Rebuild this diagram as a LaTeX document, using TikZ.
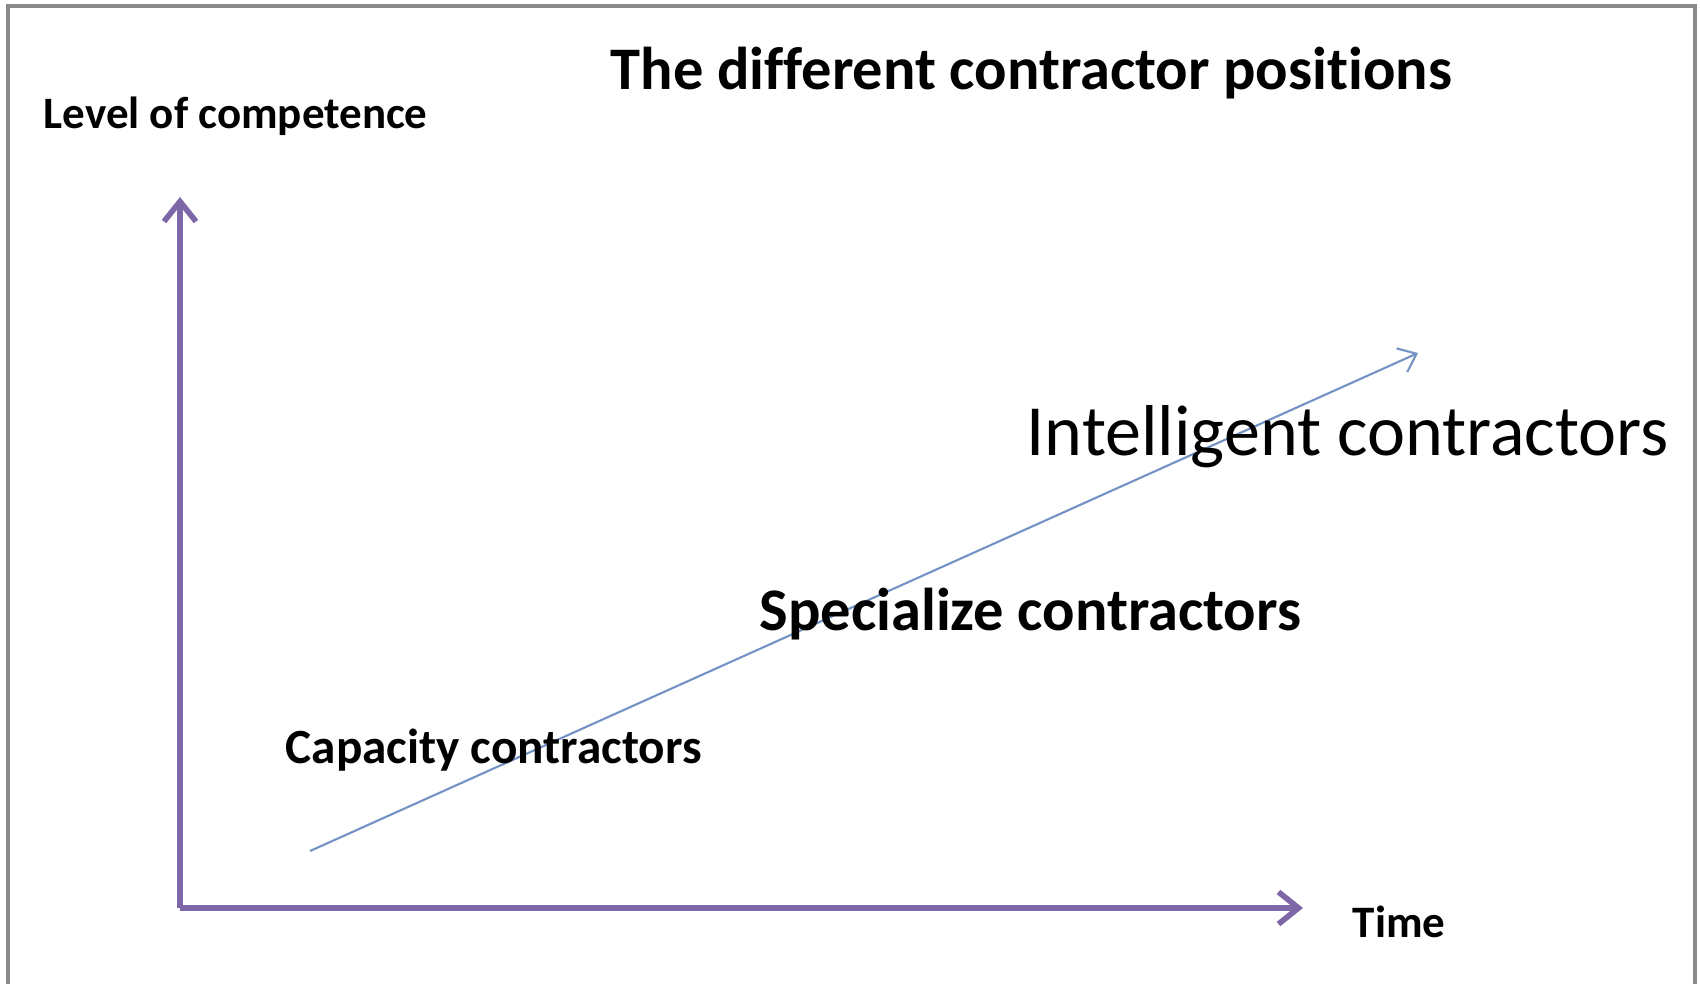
\documentclass[tikz,border=0pt]{standalone}
\usepackage{fontspec}
\setmainfont[Ligatures=NoCommon]{Carlito}
\usetikzlibrary{arrows.meta}
\definecolor{axispurple}{HTML}{7E67A6}
\definecolor{trendblue}{HTML}{7393C4}
\definecolor{framegray}{HTML}{8A8A8A}
\begin{document}
\begin{tikzpicture}
            [
            x = 0.1mm, y = -0.1mm,
            axis/.style = {axispurple, line width = 1.6pt, -{Straight Barb[length=2mm, width=3.2mm, line width=1.6pt]}},
            trend/.style = {trendblue, line width = 0.6pt, -{Straight Barb[length=1.6mm, width=2.6mm]}},
            ]
            \tikzstyle{label node}=[inner sep=0, anchor=base west]
            \tikzstyle{axis label}=[label node, font=\fontsize{12.8}{15}\selectfont\bfseries]
            \tikzstyle{big label}=[label node, font=\fontsize{17.2}{20}\selectfont\bfseries]

            \useasboundingbox (0,0) rectangle (1700,983);
            \clip (0,0) rectangle (1700,983);
            \draw[framegray, line width = 0.9pt] (8,1010) -- (8,6) -- (1695,6) -- (1695,1010);

            % axes
            \coordinate (origin) at (180,908);
            \coordinate (ytop) at (180,197);
            \coordinate (xend) at (1303,908);
            \draw[axis] (origin) -- (ytop);
            \draw[axis] (origin) -- (xend);

            % trend
            \coordinate (low) at (310,851);
            \coordinate (high) at (1418,353);
            \draw[trend] (low) -- (high);

            \node[big label] (title) at (610,89) {The different contractor positions};
            \node[axis label] (level) at (43,128) {Level of competence};
            \node[axis label] (time) at (1352,937) {Time};
            \node[label node, font=\fontsize{20.5}{24}\selectfont] (intelligent) at (1026,455) {Intelligent contractors};
            \node[big label] (specialize) at (759,630) {Specialize contractors};
            \node[label node, font=\fontsize{14}{17}\selectfont\bfseries] (capacity) at (285,763) {Capacity contractors};
        \end{tikzpicture}
\end{document}
